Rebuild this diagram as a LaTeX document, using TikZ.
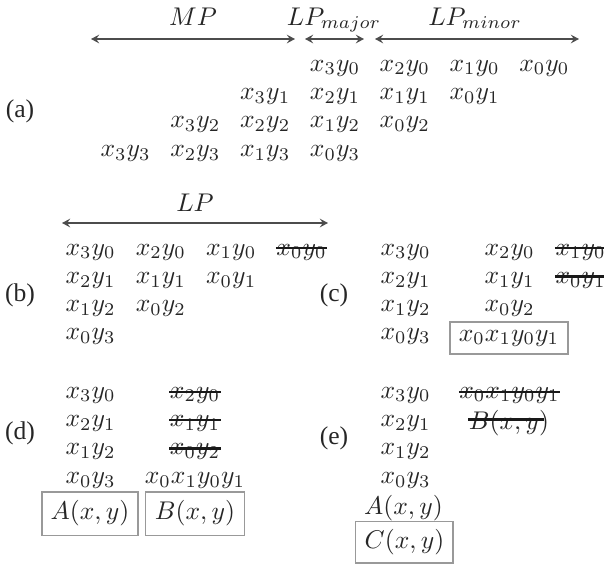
\documentclass[tikz,border=0pt]{standalone}
\usepackage{fontspec}
\setmainfont{Liberation Serif}
\usetikzlibrary{arrows.meta}
\begin{document}
\begin{tikzpicture}[x=0.390625pt,y=-0.390625pt,
  term/.style={inner sep=0pt, text=black!85, anchor=west},
  cterm/.style={inner sep=0pt, text=black!85},
  lab/.style={inner sep=0pt, text=black!85},
  toplab/.style={inner sep=0pt, text=black!85, anchor=base},
  arr/.style={{Stealth[length=3.2pt,width=3.4pt,inset=1.2pt]}-{Stealth[length=3.2pt,width=3.4pt,inset=1.2pt]}, draw=black!70, line width=0.5pt},
  strike/.style={draw=black!90, line width=0.9pt},
  box/.style={draw=black!40, line width=0.4pt, inner sep=0pt, text=black!85}]
\useasboundingbox (0,0) rectangle (604,568);

% ---------- (a) ----------
\node[lab] (la) at (20,111) {(a)};
\coordinate (mpL) at (91,39);  \coordinate (mpR) at (295,39);
\coordinate (majL) at (305,39); \coordinate (majR) at (364,39);
\coordinate (minL) at (375,39); \coordinate (minR) at (579,39);
\draw[arr] (mpL) -- (mpR);
\draw[arr] (majL) -- (majR);
\draw[arr] (minL) -- (minR);
\node[toplab] (mp) at (193,25) {$MP$};
\node[toplab] (lpmaj) at (334,25) {$LP_{major}$};
\node[toplab] (lpmin) at (475,25) {$LP_{minor}$};
\foreach \j in {0,...,3}{
  \foreach \i in {0,...,3}{
    \pgfmathsetmacro\xx{100+69.8*((3-\j)+(3-\i))}
    \pgfmathsetmacro\yy{68+28.4*\j}
    \node[term] (a\i\j) at (\xx,\yy) {$x_{\i}y_{\j}$};
  }
}

% ---------- (b) ----------
\node[lab] (lb) at (20,295) {(b)};
\coordinate (lpL) at (62,223); \coordinate (lpR) at (328,223);
\draw[arr] (lpL) -- (lpR);
\node[toplab] (lp) at (195,211) {$LP$};
\foreach \r in {0,...,3}{
  \pgfmathtruncatemacro\cmax{3-\r}
  \foreach \c in {0,...,\cmax}{
    \pgfmathtruncatemacro\ii{3-\r-\c}
    \pgfmathsetmacro\xx{65+70.3*\c}
    \pgfmathsetmacro\yy{252+28.3*\r}
    \node[term] (b\ii\r) at (\xx,\yy) {$x_{\ii}y_{\r}$};
  }
}
\draw[strike] ([yshift=1.5pt]b00.west) -- ([yshift=1.5pt]b00.east);

% ---------- (c) ----------
\node[lab] (lc) at (334,295) {(c)};
\foreach \r in {0,...,3}{
  \pgfmathtruncatemacro\ii{3-\r}
  \pgfmathsetmacro\yy{252+28.3*\r}
  \node[term] (c\ii\r) at (380,\yy) {$x_{\ii}y_{\r}$};
}
\node[term] (c20) at (484,252) {$x_2y_0$};
\node[term] (c11) at (484,280.3) {$x_1y_1$};
\node[term] (c02) at (484,308.6) {$x_0y_2$};
\node[term] (c10) at (555,252) {$x_1y_0$};
\node[term] (c01) at (555,280.3) {$x_0y_1$};
\draw[strike] ([yshift=1.5pt]c10.west) -- ([yshift=1.5pt]c10.east);
\draw[strike] ([yshift=1.5pt]c01.west) -- ([yshift=1.5pt]c01.east);
\node[box, minimum width=46.1pt, minimum height=12.5pt] (cbox) at (509,338) {$x_0x_1y_0y_1$};

% ---------- (d) ----------
\node[lab] (ld) at (20,433) {(d)};
\foreach \r in {0,...,3}{
  \pgfmathtruncatemacro\ii{3-\r}
  \pgfmathsetmacro\yy{395+28.4*\r}
  \node[term] (d\ii\r) at (65,\yy) {$x_{\ii}y_{\r}$};
}
\node[cterm] (d20) at (195,395) {$x_2y_0$};
\node[cterm] (d11) at (195,423.4) {$x_1y_1$};
\node[cterm] (d02) at (195,451.8) {$x_0y_2$};
\node[cterm] (dxy) at (195,480.2) {$x_0x_1y_0y_1$};
\draw[strike] ([yshift=1.3pt]d20.west) -- ([yshift=1.3pt]d20.east);
\draw[strike] ([yshift=1.3pt]d11.west) -- ([yshift=1.3pt]d11.east);
\draw[strike] ([yshift=1.3pt]d02.west) -- ([yshift=1.3pt]d02.east);
\node[box, minimum width=37.5pt, minimum height=16.8pt] (dA) at (90,513.5) {$A(x,y)$};
\node[box, minimum width=38.3pt, minimum height=16.8pt] (dB) at (195,513.5) {$B(x,y)$};

% ---------- (e) ----------
\node[lab] (le) at (334,438) {(e)};
\foreach \r in {0,...,3}{
  \pgfmathtruncatemacro\ii{3-\r}
  \pgfmathsetmacro\yy{395+28.4*\r}
  \node[term] (e\ii\r) at (380,\yy) {$x_{\ii}y_{\r}$};
}
\node[cterm] (eA) at (403.5,508) {$A(x,y)$};
\node[box, minimum width=37.9pt, minimum height=16.4pt] (eC) at (404.5,542) {$C(x,y)$};
\node[cterm] (exy) at (509.5,395) {$x_0x_1y_0y_1$};
\node[cterm] (eB) at (509,423.4) {$B(x,y)$};
\draw[strike] ([yshift=1.3pt]exy.west) -- ([yshift=1.3pt]exy.east);
\draw[strike, shorten >=2pt] ([yshift=1.5pt]eB.west) -- ([yshift=1.5pt]eB.east);
\end{tikzpicture}
\end{document}
